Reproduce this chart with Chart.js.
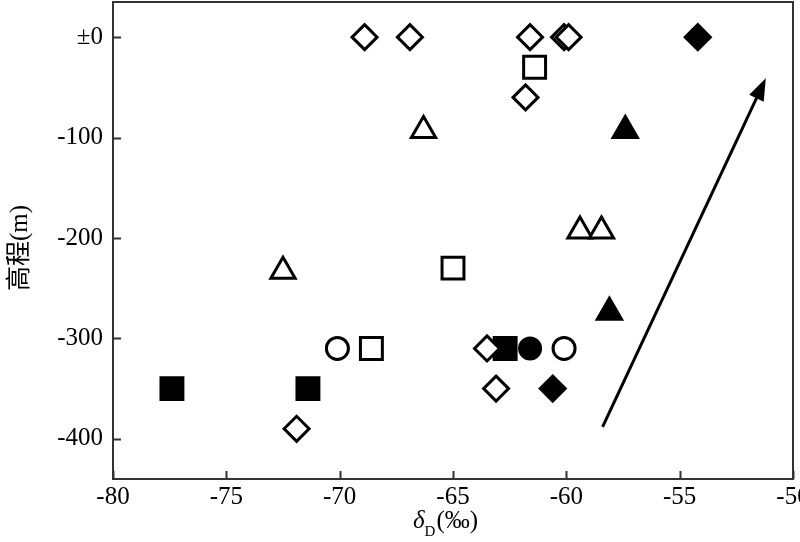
<!DOCTYPE html>
<html>
<head>
<meta charset="utf-8">
<script src="https://cdn.jsdelivr.net/npm/chart.js@4/dist/chart.umd.min.js"></script>
<style>
html,body{margin:0;padding:0;background:#fff;}
canvas{display:block;}
</style>
</head>
<body>
<canvas id="c" width="800" height="542"></canvas>
<script>
// ---- data (δD ‰, elevation m) ----
const openDiamondX = [-68.9, -66.9, -61.6, -60.1, -59.9, -61.8, -71.9, -63.5, -63.1];
const openDiamondY = [0, 0, 0, 0, 0, -60, -390, -310, -350];
const filledDiamondX = [-54.2, -60.6];
const filledDiamondY = [0, -350];
const openSquareX = [-61.4, -65.0, -68.6];
const openSquareY = [-30, -230, -310];
const filledSquareX = [-77.4, -71.4, -62.7];
const filledSquareY = [-350, -350, -310];
const openTriangleX = [-66.3, -72.5, -59.4, -58.45];
const openTriangleY = [-93, -233, -193, -193];
const filledTriangleX = [-57.4, -58.1];
const filledTriangleY = [-93, -274];
const openCircleX = [-70.1, -60.1];
const openCircleY = [-310, -310];
const filledCircleX = [-61.6];
const filledCircleY = [-310];
const arrowX = [-58.4, -51.2];
const arrowY = [-388, -41];
const xTickValues = [-80, -75, -70, -65, -60, -55, -50];
const yTickValues = [0, -100, -200, -300, -400];
const yTickLabels = ['±0', '-100', '-200', '-300', '-400'];

const pts = (xs, ys) => xs.map((x, i) => ({x: x, y: ys[i]}));
const mk = (xs, ys, style, filled, r) => ({
  data: pts(xs, ys),
  pointStyle: style,
  pointRadius: r,
  pointHoverRadius: r,
  borderWidth: 3,
  pointBorderWidth: 3,
  borderColor: '#000',
  backgroundColor: filled ? '#000' : '#fff',
  showLine: false
});

const SERIF = "'Liberation Serif', 'Times New Roman', serif";

const decor = {
  id: 'decor',
  afterDatasetsDraw(chart) {
    const ctx = chart.ctx, a = chart.chartArea;
    const xs = chart.scales.x, ys = chart.scales.y;
    ctx.save();
    // frame
    ctx.strokeStyle = '#333';
    ctx.lineWidth = 2;
    ctx.strokeRect(a.left, a.top, a.right - a.left, a.bottom - a.top);
    // inward ticks
    ctx.beginPath();
    xs.ticks.forEach(t => {
      const px = Math.round(xs.getPixelForValue(t.value)) + 0.5;
      ctx.moveTo(px, a.bottom); ctx.lineTo(px, a.bottom - 8);
    });
    ys.ticks.forEach(t => {
      const py = Math.round(ys.getPixelForValue(t.value)) + 0.5;
      ctx.moveTo(a.left, py); ctx.lineTo(a.left + 8, py);
    });
    ctx.stroke();
    // arrow
    const x0 = xs.getPixelForValue(arrowX[0]), y0 = ys.getPixelForValue(arrowY[0]);
    const x1 = xs.getPixelForValue(arrowX[1]), y1 = ys.getPixelForValue(arrowY[1]);
    const ang = Math.atan2(y1 - y0, x1 - x0);
    const hl = 22, hw = 8;
    const bx = x1 - hl * Math.cos(ang), by = y1 - hl * Math.sin(ang);
    ctx.strokeStyle = '#000';
    ctx.fillStyle = '#000';
    ctx.lineWidth = 3;
    ctx.beginPath();
    ctx.moveTo(x0, y0); ctx.lineTo(bx + 4 * Math.cos(ang), by + 4 * Math.sin(ang));
    ctx.stroke();
    ctx.beginPath();
    ctx.moveTo(x1, y1);
    ctx.lineTo(bx + hw * Math.sin(ang), by - hw * Math.cos(ang));
    ctx.lineTo(bx - hw * Math.sin(ang), by + hw * Math.cos(ang));
    ctx.closePath();
    ctx.fill();
    // x title  δD(‰)
    ctx.fillStyle = '#000';
    ctx.textBaseline = 'alphabetic';
    ctx.textAlign = 'left';
    let tx = 413, ty = 528;
    ctx.font = "italic 25px " + SERIF;
    ctx.fillText('δ', tx, ty);
    tx += ctx.measureText('δ').width;
    ctx.font = "15px " + SERIF;
    ctx.fillText('D', tx, ty + 8);
    tx += ctx.measureText('D').width + 1;
    ctx.font = "25px " + SERIF;
    ctx.fillText('(‰)', tx, ty);
    // y title
    ctx.translate(20, 248);
    ctx.rotate(-Math.PI / 2);
    ctx.textAlign = 'center';
    ctx.textBaseline = 'middle';
    ctx.font = "25px 'Liberation Serif', 'Noto Sans CJK SC', serif";
    ctx.fillText('高程(m)', 0, 0);
    ctx.restore();
  }
};

const noPad = s => { s.paddingTop = 0; s.paddingBottom = 0; s.paddingLeft = 0; s.paddingRight = 0; };

new Chart(document.getElementById('c'), {
  type: 'scatter',
  data: {
    datasets: [
      mk(openDiamondX, openDiamondY, 'rectRot', false, 12.5),
      mk(filledDiamondX, filledDiamondY, 'rectRot', true, 12.5),
      mk(openSquareX, openSquareY, 'rect', false, 15.5),
      mk(filledSquareX, filledSquareY, 'rect', true, 15.5),
      mk(openTriangleX, openTriangleY, 'triangle', false, 14),
      mk(filledTriangleX, filledTriangleY, 'triangle', true, 14),
      mk(openCircleX, openCircleY, 'circle', false, 11),
      mk(filledCircleX, filledCircleY, 'circle', true, 10.5)
    ]
  },
  options: {
    responsive: false,
    animation: false,
    events: [],
    layout: {autoPadding: false, padding: {top: 2, right: 7, left: 0, bottom: 0}},
    plugins: {legend: {display: false}, tooltip: {enabled: false}},
    scales: {
      x: {
        type: 'linear', min: -80, max: -50,
        afterFit(s) { s.height = 63; noPad(s); },
        afterBuildTicks(s) { s.ticks = xTickValues.map(v => ({value: v})); },
        grid: {display: false, drawTicks: false},
        border: {display: false},
        ticks: {
          color: '#000', padding: 3, maxRotation: 0,
          font: {family: SERIF, size: 25},
          callback: v => String(v)
        }
      },
      y: {
        type: 'linear', min: -440, max: 35,
        afterFit(s) { s.width = 113; noPad(s); },
        afterBuildTicks(s) { s.ticks = yTickValues.map(v => ({value: v})); },
        grid: {display: false, drawTicks: false},
        border: {display: false},
        ticks: {
          color: '#000', padding: 10,
          font: {family: SERIF, size: 25},
          callback: v => yTickLabels[yTickValues.indexOf(v)]
        }
      }
    }
  },
  plugins: [decor]
});
</script>
</body>
</html>
